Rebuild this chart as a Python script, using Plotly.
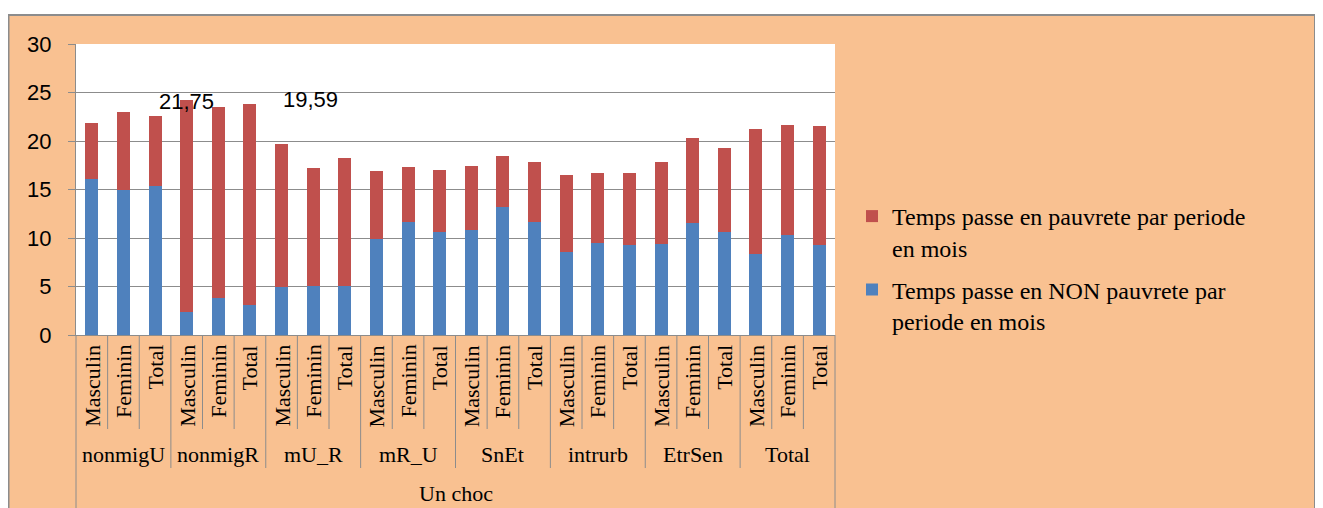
import plotly.graph_objects as go

groups = ["nonmigU", "nonmigR", "mU_R", "mR_U", "SnEt", "intrurb", "EtrSen", "Total"]
sexes = ["Masculin", "Feminin", "Total"]
outer_label = "Un choc"

non_pauvrete = [16.08, 14.98, 15.40, 2.41, 3.85, 3.09, 4.95, 5.09, 5.09,
                9.90, 11.68, 10.65, 10.86, 13.20, 11.68, 8.59, 9.48, 9.28,
                9.42, 11.55, 10.65, 8.38, 10.31, 9.28]
pauvrete = [5.78, 8.01, 7.18, 21.82, 19.66, 20.72, 14.74, 12.13, 13.16,
            7.01, 5.64, 6.36, 6.56, 5.25, 6.16, 7.90, 7.22, 7.42,
            8.42, 8.76, 8.63, 12.86, 11.34, 12.27]

label_texts = ["21,75", "19,59"]
label_x = [3, 6.9]
label_y = [24.1, 24.3]

name_red = "Temps passe en pauvrete par periode<br>en mois"
name_blue = "Temps passe en NON pauvrete par<br>periode en mois"

n = len(groups) * len(sexes)
xs = list(range(n))

PEACH = "#F9C191"
GRAY = "#8C8C8C"
SERIF = "Liberation Serif, Times New Roman, serif"
SANS = "Liberation Sans, Arial, sans-serif"

# page body margin offsets the figure by 8px; work in reference-window pixels
OFF = 8
W, H = 1323 - OFF, 508 - OFF
L, R, T, B = 76 - OFF, 835 - OFF, 44 - OFF, 335 - OFF
pw, ph = R - L, B - T

def py(p):  # reference window y pixel -> paper
    return (B - (p - OFF)) / ph

def px(p):  # reference window x pixel -> paper
    return ((p - OFF) - L) / pw

fig = go.Figure()
fig.add_trace(go.Bar(x=xs, y=non_pauvrete, name=name_blue, legendgroup="blue", legendrank=2,
                     marker=dict(color="#4F81BD", line=dict(width=0)), width=0.41))
fig.add_trace(go.Bar(x=xs, y=pauvrete, name=name_red, legendgroup="red", legendrank=1,
                     marker=dict(color="#C0504D", line=dict(width=0)), width=0.41))

shapes = []
# white outside the chart area box
shapes.append(dict(type="rect", xref="paper", yref="paper", x0=px(-20), x1=px(1340),
                   y0=py(15), y1=py(-20), fillcolor="white", line=dict(width=0), layer="below"))
shapes.append(dict(type="rect", xref="paper", yref="paper", x0=px(1316), x1=px(1340),
                   y0=py(530), y1=py(15), fillcolor="white", line=dict(width=0), layer="below"))
# chart area border
shapes.append(dict(type="rect", xref="paper", yref="paper", x0=px(8.5), x1=px(1315),
                   y0=py(530), y1=py(15), line=dict(color=GRAY, width=2), layer="below"))

# category axis separators
for i in range(n - 1):
    bound = i + 0.5
    is_group = (i + 1) % len(sexes) == 0
    shapes.append(dict(type="line", xref="x", yref="paper", x0=bound, x1=bound,
                       y0=0, y1=py(468 if is_group else 429),
                       line=dict(color=GRAY, width=1)))
for edge in (0, 1):
    shapes.append(dict(type="line", xref="paper", yref="paper", x0=edge, x1=edge,
                       y0=0, y1=py(520), line=dict(color=GRAY, width=1)))

annotations = []
for gi, g in enumerate(groups):
    for si, s in enumerate(sexes):
        idx = gi * len(sexes) + si
        annotations.append(dict(x=idx, y=py(343), xref="x", yref="paper", text=s,
                                textangle=-90, showarrow=False, xanchor="center",
                                yanchor="top", font=dict(family=SERIF, size=22, color="black")))
    annotations.append(dict(x=gi * len(sexes) + 1, y=py(455), xref="x", yref="paper", text=g,
                            showarrow=False, xanchor="center", yanchor="middle",
                            font=dict(family=SERIF, size=22, color="black")))
annotations.append(dict(x=(n - 1) / 2, y=py(494), xref="x", yref="paper", text=outer_label,
                        showarrow=False, xanchor="center", yanchor="middle",
                        font=dict(family=SERIF, size=22, color="black")))
for t, lx, ly in zip(label_texts, label_x, label_y):
    annotations.append(dict(x=lx, y=ly, xref="x", yref="y", text=t, showarrow=False,
                            xanchor="center", yanchor="middle",
                            font=dict(family=SANS, size=22, color="black")))

fig.update_layout(
    width=W, height=H,
    margin=dict(l=L, r=W - R, t=T, b=H - B, pad=0),
    paper_bgcolor=PEACH,
    plot_bgcolor="white",
    barmode="stack",
    bargap=0.58,
    showlegend=True,
    legend=dict(x=px(852), y=py(194), xanchor="left", yanchor="top",
                traceorder="grouped", valign="top", itemwidth=30,
                bgcolor="rgba(0,0,0,0)", tracegroupgap=8,
                font=dict(family=SERIF, size=24, color="black")),
    xaxis=dict(range=[-0.5, n - 0.5], showticklabels=False, ticks="",
               showgrid=False, zeroline=False, showline=True, linecolor=GRAY, linewidth=1),
    yaxis=dict(range=[0, 30], dtick=5, ticks="outside", ticklen=7, tickcolor=GRAY,
               showgrid=True, gridcolor=GRAY, gridwidth=1,
               zeroline=True, zerolinecolor=GRAY, zerolinewidth=1,
               showline=True, linecolor=GRAY, linewidth=1,
               ticklabelstandoff=12,
               tickfont=dict(family=SANS, size=22, color="black")),
    shapes=shapes,
    annotations=annotations,
)

fig.write_html("out.html")
